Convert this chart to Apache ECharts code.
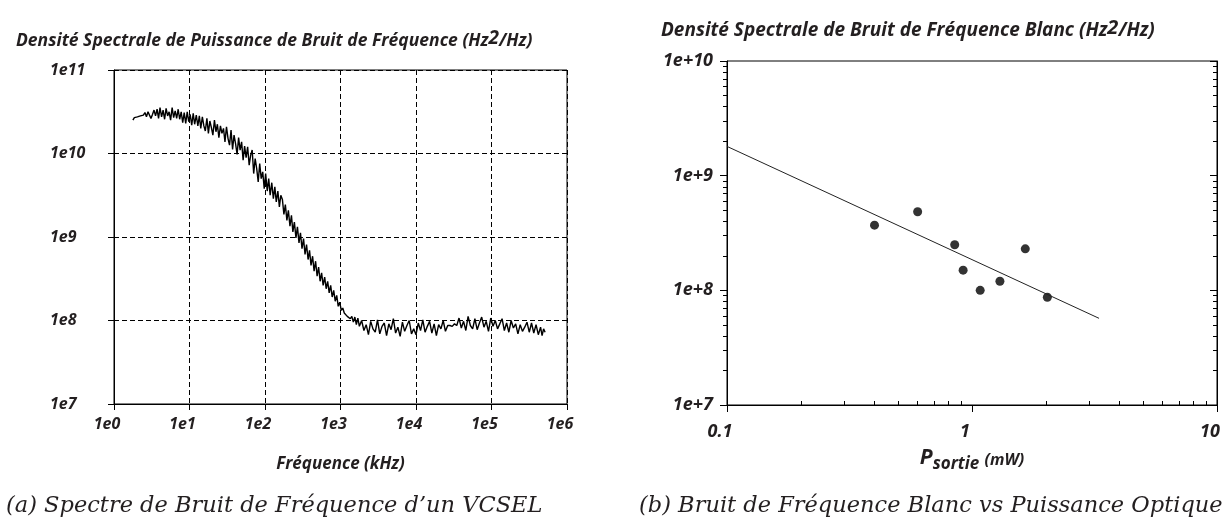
<!DOCTYPE html>
<html>
<head>
<meta charset="utf-8">
<script src="https://cdn.jsdelivr.net/npm/echarts@6/dist/echarts.min.js"></script>
<style>html,body{margin:0;padding:0;background:#fff}#c{width:1232px;height:523px}</style>
</head>
<body>
<div id="c"></div>
<script>
// ---- (a) frequency-noise spectrum of a VCSEL ----
const freqKHz = [
1.78,1.86,1.95,2.04,2.14,2.24,2.34,2.45,2.57,2.69,2.82,2.95,3.09,3.24,3.39,3.55,
3.72,3.89,4.07,4.27,4.47,4.68,4.90,5.13,5.37,5.62,5.89,6.17,6.46,6.76,7.08,7.41,
7.76,8.13,8.51,8.91,9.33,9.77,10.2,10.7,11.2,11.7,12.3,12.9,13.5,
14.1,14.8,15.5,16.2,17.0,17.8,18.6,19.5,20.4,21.4,22.4,23.4,24.5,25.7,26.9,28.2,
29.5,30.9,32.4,33.9,35.5,37.2,38.9,40.7,42.7,44.7,46.8,49.0,51.3,53.7,56.2,
58.9,61.7,64.6,67.6,70.8,74.1,77.6,81.3,85.1,89.1,93.3,97.7,
102,107,112,117,123,129,135,141,148,155,162,
170,178,186,195,204,214,224,234,245,257,269,282,295,309,324,339,355,372,389,407,427,447,468,490,513,537,
562,589,617,646,676,708,741,776,813,851,891,933,977,1023,1072,
1122,1175,1230,1288,1349,1413,1479,1549,1622,1698,1778,
1905,2042,2188,2344,2512,2692,2884,3090,3311,3548,3802,4074,4365,4677,5012,5370,5754,6166,6607,7079,7586,8128,8710,9333,10000,10715,11482,12303,13183,14125,15136,16218,17378,18621,19953,21380,22909,24547,26303,
28184,30200,32359,34674,
37154,39811,42658,45709,48978,52481,56234,60256,64565,69183,74131,79433,85114,91201,97724,104713,112202,120226,128825,138038,147911,158489,169824,181970,194984,208930,223872,239883,257040,275423,
295121,316228,338844,363078,389045,416869,446684,467735,489779,512861
];
const psdSpectrum = [
2.51e10,2.69e10,2.82e10,2.75e10,2.88e10,2.82e10,2.95e10,2.88e10,3.09e10,2.75e10,3.16e10,2.88e10,2.63e10,2.95e10,3.31e10,2.82e10,
3.39e10,2.63e10,3.55e10,2.75e10,3.31e10,2.57e10,3.47e10,2.82e10,3.16e10,2.51e10,3.55e10,2.69e10,3.24e10,2.63e10,3.39e10,2.57e10,
3.16e10,2.34e10,3.09e10,2.29e10,3.16e10,2.40e10,2.95e10,2.19e10,3.02e10,2.24e10,2.88e10,2.14e10,2.82e10,
2.00e10,2.75e10,2.14e10,1.86e10,2.63e10,1.74e10,2.45e10,2.04e10,1.66e10,2.51e10,1.82e10,2.24e10,1.55e10,2.14e10,1.74e10,2.00e10,
1.38e10,2.09e10,1.51e10,1.26e10,1.91e10,1.12e10,1.66e10,1.32e10,9.77e9,1.55e10,1.10e10,1.38e10,8.32e9,1.23e10,8.91e9,
1.20e10,7.24e9,9.55e9,1.10e10,5.75e9,8.71e9,6.61e9,4.57e9,7.59e9,5.01e9,6.03e9,3.80e9,
5.75e9,3.55e9,5.01e9,3.16e9,4.47e9,2.88e9,3.98e9,2.63e9,3.55e9,2.29e9,3.16e9,
2.82e9,1.86e9,2.45e9,1.58e9,2.09e9,1.35e9,1.82e9,1.15e9,1.51e9,9.77e8,1.32e9,8.51e8,1.12e9,7.24e8,9.55e8,6.17e8,8.13e8,5.37e8,6.92e8,4.57e8,5.89e8,3.89e8,5.13e8,3.39e8,4.37e8,2.95e8,
3.72e8,2.63e8,3.31e8,2.40e8,2.95e8,2.14e8,2.63e8,1.91e8,2.29e8,1.70e8,2.00e8,1.48e8,1.66e8,1.32e8,1.41e8,
1.23e8,1.29e8,1.12e8,1.17e8,1.05e8,1.12e8,9.55e7,1.10e8,8.91e7,1.07e8,8.51e7,
1.00e8,7.59e7,8.91e7,6.76e7,9.77e7,7.94e7,7.24e7,1.02e8,6.92e7,8.51e7,9.33e7,6.61e7,9.12e7,7.76e7,1.05e8,7.08e7,8.32e7,6.46e7,9.55e7,7.41e7,8.71e7,1.00e8,6.92e7,7.94e7,6.76e7,9.33e7,7.59e7,1.02e8,7.24e7,8.51e7,9.77e7,7.08e7,9.12e7,6.61e7,8.91e7,7.94e7,1.00e8,7.41e7,8.71e7,
8.71e7,8.51e7,9.12e7,8.71e7,
1.07e8,8.13e7,9.77e7,7.59e7,1.12e8,8.71e7,7.94e7,1.05e8,7.76e7,9.33e7,1.10e8,8.32e7,9.77e7,7.41e7,1.07e8,8.51e7,1.00e8,7.94e7,9.12e7,1.05e8,7.59e7,9.33e7,7.24e7,1.00e8,8.13e7,9.12e7,6.92e7,8.91e7,7.41e7,8.32e7,
9.55e7,7.24e7,9.33e7,7.08e7,8.91e7,6.76e7,8.32e7,6.61e7,7.94e7,7.24e7
];

// ---- (b) white frequency noise vs optical power ----
const powerMW = [0.40, 0.60, 0.85, 0.92, 1.08, 1.30, 1.65, 2.03];
const whitePsd = [3.7e8, 4.85e8, 2.5e8, 1.5e8, 1.0e8, 1.2e8, 2.3e8, 8.7e7];
const fitPowerMW = [0.1, 3.3];
const fitPsd = [1.8e9, 5.7e7];

// tick values
const minorX = [0.2,0.3,0.4,0.5,0.6,0.7,0.8,0.9,2,3,4,5,6,7,8,9];
const minorY = [2e7,3e7,4e7,5e7,6e7,7e7,8e7,9e7,2e8,3e8,4e8,5e8,6e8,7e8,8e8,9e8,2e9,3e9,4e9,5e9,6e9,7e9,8e9,9e9];

const zip = (a, b) => a.map((v, i) => [v, b[i]]);
const exp10 = v => Math.round(Math.log10(v));

const SANS = '"Open Sans", "DejaVu Sans", sans-serif';
const lbl = (size, extra) => Object.assign({
  color: '#231f20', fontFamily: SANS, fontWeight: 'bold', fontStyle: 'italic', fontSize: size
}, extra || {});
const dash = { show: true, lineStyle: { color: '#000', type: [5, 3], width: 1 } };
const black = { lineStyle: { color: '#000', width: 1 } };
const SERIF = { fontFamily: '"DejaVu Serif", serif', fontStyle: 'italic', fontWeight: 'normal', fontSize: 22.5, color: '#231f20' };

const chart = echarts.init(document.getElementById('c'), null, { renderer: 'canvas' });
chart.setOption({
  animation: false,
  backgroundColor: '#fff',
  title: [
    { text: 'Densité Spectrale de Puissance de Bruit de Fréquence (Hz{s|2}/Hz)', left: 11, top: 24,
      textStyle: lbl(17.5, { rich: { s: lbl(19, { padding: [0, 0, 6, 0] }) } }) },
    { text: 'Densité Spectrale de Bruit de Fréquence Blanc (Hz{s|2}/Hz)', left: 656, top: 13,
      textStyle: lbl(19, { rich: { s: lbl(20, { padding: [0, 0, 6, 0] }) } }) },
    { text: '(a) Spectre de Bruit de Fréquence d\u2019un VCSEL', left: 1, top: 490, textStyle: SERIF },
    { text: '(b) Bruit de Fréquence Blanc vs Puissance Optique', left: 634, top: 490, textStyle: SERIF }
  ],
  grid: [
    { left: 114, right: 665, top: 70, bottom: 119, show: true, borderColor: '#000', borderWidth: 1 },
    { left: 727, right: 15, top: 61, bottom: 118, show: true, borderColor: '#000', borderWidth: 1 }
  ],
  xAxis: [
    { gridIndex: 0, type: 'log', logBase: 10, min: 1, max: 1e6,
      axisLine: black, axisTick: { show: true, inside: false, length: 6, lineStyle: { color: '#000' } },
      splitLine: dash,
      axisLabel: lbl(16, { margin: 12, padding: [0, 14, 0, 0], formatter: v => '1e' + exp10(v) }),
      name: 'Fréquence (kHz)', nameLocation: 'middle', nameGap: 52,
      nameTextStyle: lbl(17) },
    { gridIndex: 1, type: 'log', logBase: 10, min: 0.1, max: 10,
      axisLine: black, axisTick: { show: true, inside: false, length: 7, lineStyle: { color: '#000' } },
      splitLine: { show: false },
      axisLabel: lbl(18, { margin: 18, padding: [0, 14, 0, 0], formatter: v => (v < 1 ? '0.1' : String(Math.round(v))) }),
      name: '{a|P}{b|sortie} {c|(mW)}', nameLocation: 'middle', nameGap: 43,
      nameTextStyle: lbl(20, { rich: {
        a: lbl(21, { verticalAlign: 'bottom', padding: [0, 0, 4, 0] }),
        b: lbl(17, { verticalAlign: 'bottom' }),
        c: lbl(16, { verticalAlign: 'bottom', padding: [0, 0, 5, 0] }) } }) },
    { gridIndex: 1, type: 'log', logBase: 10, min: 0.1, max: 10, position: 'bottom',
      axisLine: { show: false }, axisLabel: { show: false }, splitLine: { show: false },
      axisTick: { show: true, inside: true, length: 4, customValues: minorX, lineStyle: { color: '#000' } } }
  ],
  yAxis: [
    { gridIndex: 0, type: 'log', logBase: 10, min: 1e7, max: 1e11,
      axisLine: black, axisTick: { show: true, inside: false, length: 6, lineStyle: { color: '#000' } },
      splitLine: dash,
      axisLabel: lbl(16, { margin: 64, align: 'left', formatter: v => '1e' + exp10(v) }) },
    { gridIndex: 1, type: 'log', logBase: 10, min: 1e7, max: 1e10, position: 'left',
      axisLine: black, axisTick: { show: true, inside: false, length: 7, lineStyle: { color: '#000' } },
      splitLine: { show: false },
      axisLabel: lbl(18, { margin: 14, formatter: v => '1e+' + exp10(v) }) },
    { gridIndex: 1, type: 'log', logBase: 10, min: 1e7, max: 1e10, position: 'left',
      axisLine: { show: false }, axisLabel: { show: false }, splitLine: { show: false },
      axisTick: { show: true, inside: false, length: 4, customValues: minorY, lineStyle: { color: '#000' } } },
    { gridIndex: 1, type: 'log', logBase: 10, min: 1e7, max: 1e10, position: 'right',
      axisLine: black, axisLabel: { show: false }, splitLine: { show: false },
      axisTick: { show: true, inside: true, length: 7, lineStyle: { color: '#000' } } },
    { gridIndex: 1, type: 'log', logBase: 10, min: 1e7, max: 1e10, position: 'right',
      axisLine: { show: false }, axisLabel: { show: false }, splitLine: { show: false },
      axisTick: { show: true, inside: true, length: 4, customValues: minorY, lineStyle: { color: '#000' } } }
  ],
  series: [
    { type: 'line', xAxisIndex: 0, yAxisIndex: 0, data: zip(freqKHz, psdSpectrum),
      showSymbol: false, symbol: 'none', lineStyle: { color: '#000', width: 1.4 }, silent: true },
    { type: 'line', xAxisIndex: 1, yAxisIndex: 1, data: zip(fitPowerMW, fitPsd),
      showSymbol: false, symbol: 'none', lineStyle: { color: '#222', width: 1 }, silent: true },
    { type: 'scatter', xAxisIndex: 1, yAxisIndex: 1, data: zip(powerMW, whitePsd),
      symbol: 'circle', symbolSize: 9, itemStyle: { color: '#000' }, silent: true }
  ]
});
</script>
</body>
</html>
